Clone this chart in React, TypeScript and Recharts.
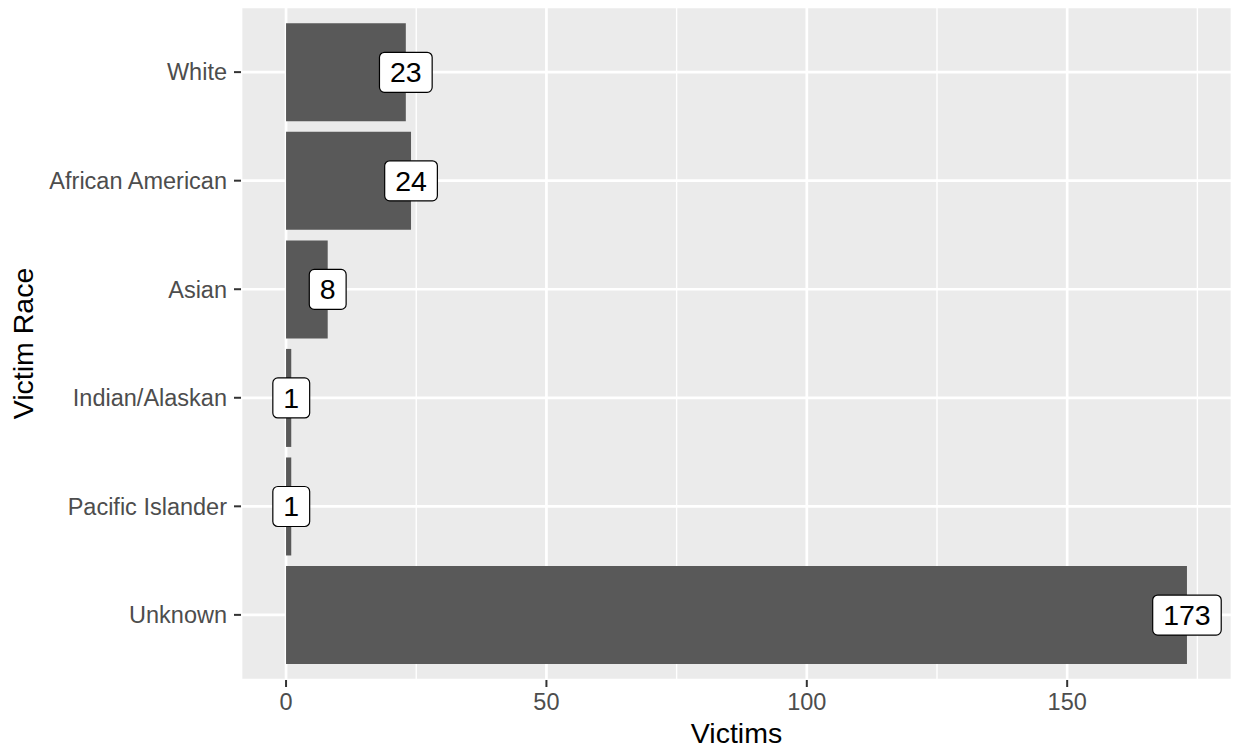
import { Bar, BarChart, CartesianGrid, LabelList, XAxis, YAxis } from 'recharts';

const races = ['White', 'African American', 'Asian', 'Indian/Alaskan', 'Pacific Islander', 'Unknown'];
const victims = [23, 24, 8, 1, 1, 173];
const xTicks = [0, 50, 100, 150];
const minorTicks = [25, 75, 125, 175];
const xDomain: [number, number] = [-8.65, 181.65];

const data = races.map((race, i) => ({ race, victims: victims[i] }));

const FONT = '"Liberation Sans", Arial, Helvetica, sans-serif';
const LABEL_SIZE = 28.5;

function ValueLabel(props: any) {
  const { x, y, width, height, value } = props;
  const cx = x + width;
  const cy = y + height / 2;
  const w = String(value).length * 0.556 * LABEL_SIZE + 21;
  const h = 40;
  return (
    <g>
      <rect x={cx - w / 2} y={cy - h / 2} width={w} height={h} rx={5} ry={5} fill="#fff" stroke="#000" strokeWidth={1.2} />
      <text x={cx} y={cy + 10} textAnchor="middle" fontSize={LABEL_SIZE} fontFamily={FONT} fill="#000">
        {value}
      </text>
    </g>
  );
}

// minor grid lines, mapped with the x axis scale (or its linear equivalent)
const minorLines = (p: any) => {
  const scale = p?.xAxis?.scale;
  if (typeof scale === 'function') return minorTicks.map((t) => scale(t));
  const { left, width } = p.offset;
  return minorTicks.map((t) => left + ((t - xDomain[0]) / (xDomain[1] - xDomain[0])) * width);
};

export default function App() {
  return (
    <div style={{ position: 'absolute', left: 0, top: 0, background: '#fff' }}>
      <BarChart
        width={1236}
        height={752}
        data={data}
        layout="vertical"
        margin={{ top: 7, right: 4, bottom: 0, left: 0 }}
        barCategoryGap="5%"
      >
        <CartesianGrid fill="#EBEBEB" stroke="#FFFFFF" strokeWidth={2.7} />
        <CartesianGrid
          horizontal={false}
          stroke="#FFFFFF"
          strokeWidth={1.4}
          verticalCoordinatesGenerator={minorLines}
        />
        <XAxis
          type="number"
          dataKey="victims"
          domain={xDomain}
          ticks={xTicks}
          allowDataOverflow
          height={72}
          axisLine={false}
          tickSize={7}
          tickMargin={6}
          tickLine={{ stroke: '#333333', strokeWidth: 2 }}
          tick={{ fill: '#4D4D4D', fontSize: 23.5, fontFamily: FONT }}
          label={{
            content: (p: any) => (
              <text
                x={p.viewBox.x + p.viewBox.width / 2}
                y={743}
                textAnchor="middle"
                fontSize={28.5}
                fontFamily={FONT}
                fill="#000"
              >
                Victims
              </text>
            ),
          }}
        />
        <YAxis
          type="category"
          dataKey="race"
          width={241}
          padding={{ top: 10.85, bottom: 10.85 }}
          axisLine={false}
          tickSize={7}
          tickMargin={7}
          tickLine={{ stroke: '#333333', strokeWidth: 2 }}
          tick={{ fill: '#4D4D4D', fontSize: 23.5, fontFamily: FONT }}
          interval={0}
          label={{
            content: (p: any) => {
              const lx = 33;
              const ly = p.viewBox.y + p.viewBox.height / 2;
              return (
                <text
                  x={lx}
                  y={ly}
                  transform={`rotate(-90 ${lx} ${ly})`}
                  textAnchor="middle"
                  fontSize={28.5}
                  fontFamily={FONT}
                  fill="#000"
                >
                  Victim Race
                </text>
              );
            },
          }}
        />
        <Bar dataKey="victims" fill="#595959" isAnimationActive={false}>
          <LabelList dataKey="victims" content={ValueLabel} />
        </Bar>
      </BarChart>
    </div>
  );
}
